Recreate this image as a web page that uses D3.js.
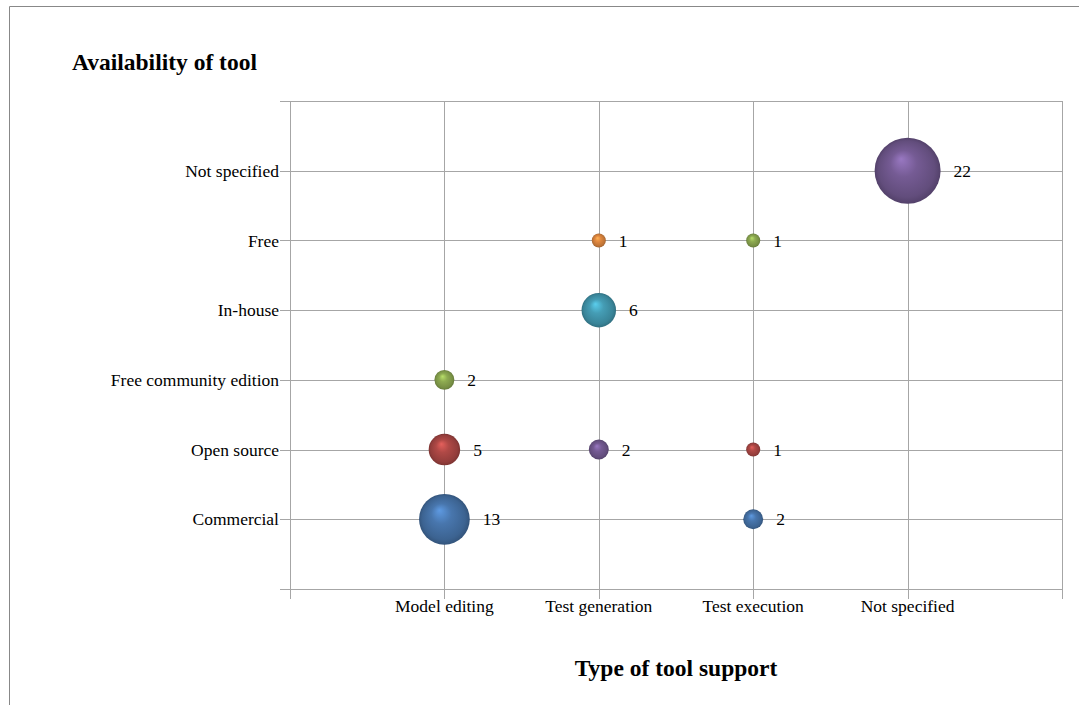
<!DOCTYPE html>
<html>
<head>
<meta charset="utf-8">
<script src="https://cdn.jsdelivr.net/npm/d3@7"></script>
<style>
  body { margin: 0; background: #fff; }
  svg text { font-family: "Liberation Serif", "Times New Roman", serif; fill: #000; }
</style>
</head>
<body>
<div id="chart"></div>
<script>
const xCategories = ["Model editing", "Test generation", "Test execution", "Not specified"];
const yCategories = ["Commercial", "Open source", "Free community edition", "In-house", "Free", "Not specified"];

// bubble points: support type, availability, count
const pointX = ["Model editing", "Model editing", "Model editing",
                "Test generation", "Test generation", "Test generation",
                "Test execution", "Test execution", "Test execution",
                "Not specified"];
const pointY = ["Commercial", "Open source", "Free community edition",
                "Open source", "In-house", "Free",
                "Commercial", "Open source", "Free",
                "Not specified"];
const pointCount = [13, 5, 2, 2, 6, 1, 2, 1, 1, 22];
const palette = ["#4f81bd", "#c0504d", "#9bbb59", "#8064a2", "#4bacc6", "#f79646"];

const W = 1079, H = 705;
const margin = { left: 290, right: 17, top: 101, bottom: 116 };

const svg = d3.select("#chart").append("svg")
    .attr("width", W)
    .attr("height", H);

// outer frame (top and left edges visible)
svg.append("path")
    .attr("d", `M9.5,${H} V6.5 H${W}`)
    .attr("fill", "none")
    .attr("stroke", "#888")
    .attr("stroke-width", 1);

const xScale = d3.scaleLinear().domain([0, 5]).range([margin.left, W - margin.right]);
const yScale = d3.scaleLinear().domain([0, 7]).range([H - margin.bottom, margin.top]);
const rScale = d3.scaleSqrt().domain([0, 22]).range([0, 33]);

const defs = svg.append("defs");
palette.forEach((c, i) => {
    const g = defs.append("radialGradient")
        .attr("id", "sphere" + i)
        .attr("cx", "50%").attr("cy", "50%").attr("r", "50%")
        .attr("fx", "40%").attr("fy", "32%");
    const base = d3.color(c);
    g.append("stop").attr("offset", "0%").attr("stop-color", base.brighter(0.5));
    g.append("stop").attr("offset", "40%").attr("stop-color", base.darker(0.25));
    g.append("stop").attr("offset", "85%").attr("stop-color", base.darker(0.75));
    g.append("stop").attr("offset", "100%").attr("stop-color", base.darker(1.2));
});

const gridColor = "#a6a6a6";
const plotLeft = xScale(0), plotRight = xScale(5);
const plotTop = yScale(7), plotBottom = yScale(0);

// horizontal grid lines (with tick stubs to the left)
svg.append("g").selectAll("line")
    .data(d3.range(0, 8))
    .join("line")
    .attr("x1", plotLeft - 10)
    .attr("x2", plotRight)
    .attr("y1", d => Math.round(yScale(d)) + 0.5)
    .attr("y2", d => Math.round(yScale(d)) + 0.5)
    .attr("stroke", gridColor);

// vertical grid lines (with tick stubs below)
svg.append("g").selectAll("line")
    .data(d3.range(0, 6))
    .join("line")
    .attr("x1", d => Math.round(xScale(d)) + 0.5)
    .attr("x2", d => Math.round(xScale(d)) + 0.5)
    .attr("y1", plotTop)
    .attr("y2", plotBottom + 10)
    .attr("stroke", gridColor);

// y tick labels
svg.append("g").selectAll("text")
    .data(yCategories)
    .join("text")
    .attr("x", plotLeft - 11)
    .attr("y", (d, i) => yScale(i + 1))
    .attr("dy", "0.35em")
    .attr("text-anchor", "end")
    .style("font-size", "17.5px")
    .text(d => d);

// x tick labels
svg.append("g").selectAll("text")
    .data(xCategories)
    .join("text")
    .attr("x", (d, i) => xScale(i + 1))
    .attr("y", plotBottom + 23)
    .attr("text-anchor", "middle")
    .style("font-size", "17.5px")
    .text(d => d);

const points = pointCount.map((v, i) => ({
    x: xCategories.indexOf(pointX[i]) + 1,
    y: yCategories.indexOf(pointY[i]) + 1,
    v,
    c: i % palette.length
}));

// bubbles
svg.append("g").selectAll("circle")
    .data(points)
    .join("circle")
    .attr("cx", d => xScale(d.x))
    .attr("cy", d => yScale(d.y))
    .attr("r", d => rScale(d.v))
    .attr("fill", d => `url(#sphere${d.c})`);

// value labels
svg.append("g").selectAll("text")
    .data(points)
    .join("text")
    .attr("x", d => xScale(d.x) + rScale(d.v) + 13)
    .attr("y", d => yScale(d.y))
    .attr("dy", "0.35em")
    .style("font-size", "17.5px")
    .text(d => d.v);

// titles
svg.append("text")
    .attr("x", 72)
    .attr("y", 70)
    .style("font-size", "23.5px")
    .style("font-weight", "bold")
    .text("Availability of tool");

svg.append("text")
    .attr("x", (plotLeft + plotRight) / 2)
    .attr("y", 676)
    .attr("text-anchor", "middle")
    .style("font-size", "23.5px")
    .style("font-weight", "bold")
    .text("Type of tool support");
</script>
</body>
</html>
